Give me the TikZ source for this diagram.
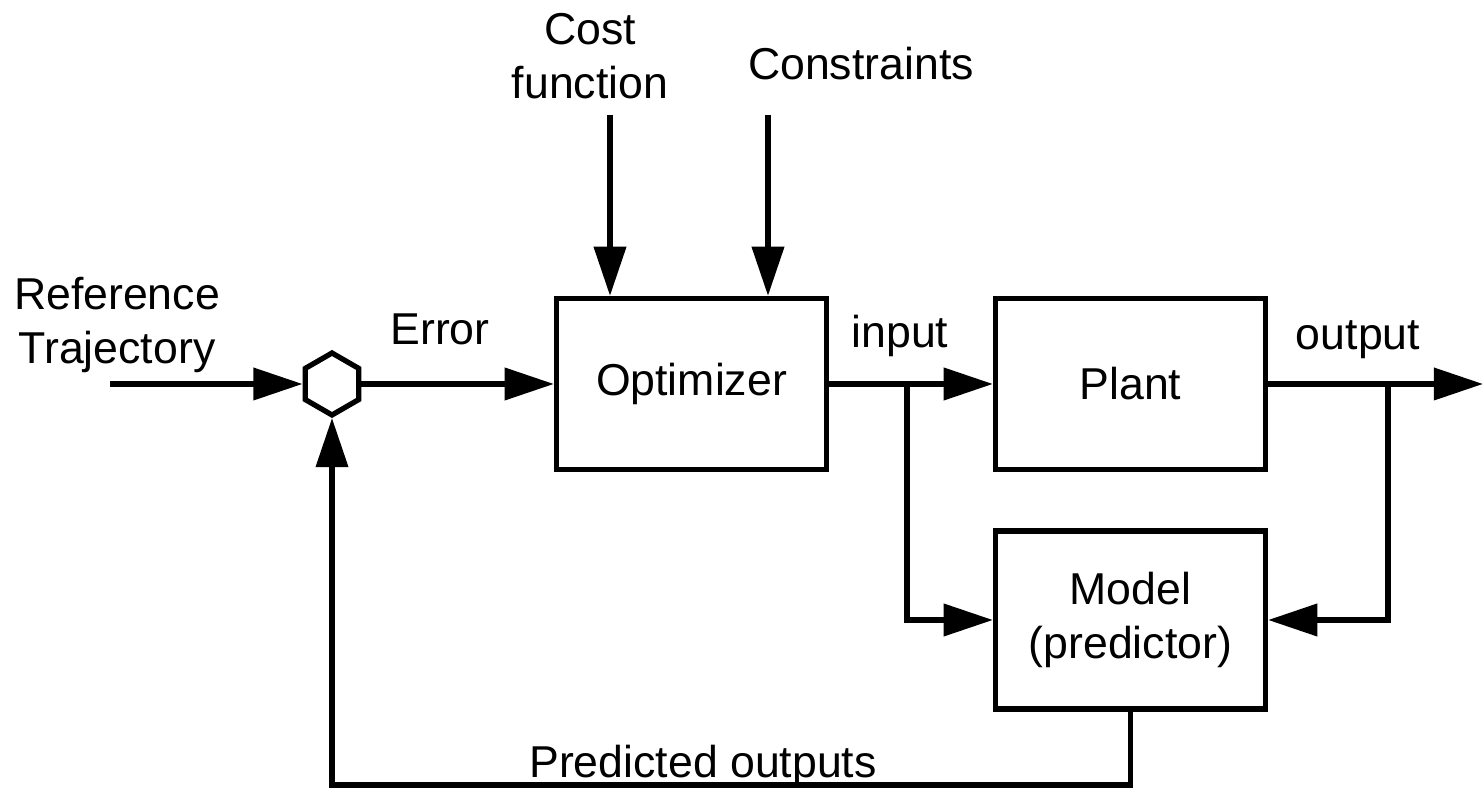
\documentclass[tikz,border=0pt]{standalone}
\usepackage{fontspec}
\setmainfont{Liberation Sans}
\usetikzlibrary{arrows.meta,shapes.geometric}

\begin{document}
\begin{tikzpicture}[>={Triangle[length=14pt,width=9pt]}, line width=1.5pt,
  font=\fontsize{12.7}{15.5}\selectfont,
  block/.style={draw, minimum width=2.70cm, align=center},
  lbl/.style={align=center, inner sep=0pt}]
  \useasboundingbox (0,0) rectangle (14.83,7.91);

  \node (sum) at (3.32,4.07) [regular polygon, regular polygon sides=6, shape border rotate=30, draw, minimum size=0.62cm, inner sep=0pt] {};
  \node (opt) at (6.915,4.07) [block, minimum height=1.71cm] {Optimizer};
  \node (plant) at (11.305,4.07) [block, minimum height=1.71cm] {Plant};
  \node (model) at (11.305,1.71) [block, minimum height=1.78cm] {Model\\(predictor)};

  \node (reftxt) at (1.17,4.66) [lbl] {Reference\\Trajectory};
  \node (costtxt) at (5.90,7.35) [lbl] {Cost\\function};
  \node (constxt) at (8.61,7.11) [lbl, anchor=base] {Constraints};
  \node (errtxt) at (4.40,4.46) [lbl, anchor=base] {Error};
  \node (intxt) at (9.00,4.43) [lbl, anchor=base] {input};
  \node (outtxt) at (13.58,4.41) [lbl, anchor=base] {output};
  \node (predtxt) at (7.03,0.13) [lbl, anchor=base] {Predicted outputs};

  \coordinate (rin) at (1.10,4.07);
  \coordinate (cost) at (6.10,6.76);
  \coordinate (cons) at (7.68,6.76);
  \coordinate (ib) at (9.07,4.07);
  \coordinate (ob) at (13.88,4.07);
  \coordinate (out) at (14.83,4.07);
  \coordinate (pc) at (3.32,0.06);

  \draw [->] (rin) -- (sum);
  \draw [->] (sum) -- (opt);
  \draw [->] (cost) -- (cost |- opt.north);
  \draw [->] (cons) -- (cons |- opt.north);
  \draw [->] (opt) -- (plant);
  \draw [->] (ib) |- (model);
  \draw [->] (plant) -- (out);
  \draw [->] (ob) |- (model);
  \draw [->] (model) |- (pc) -- (sum);
\end{tikzpicture}
\end{document}
